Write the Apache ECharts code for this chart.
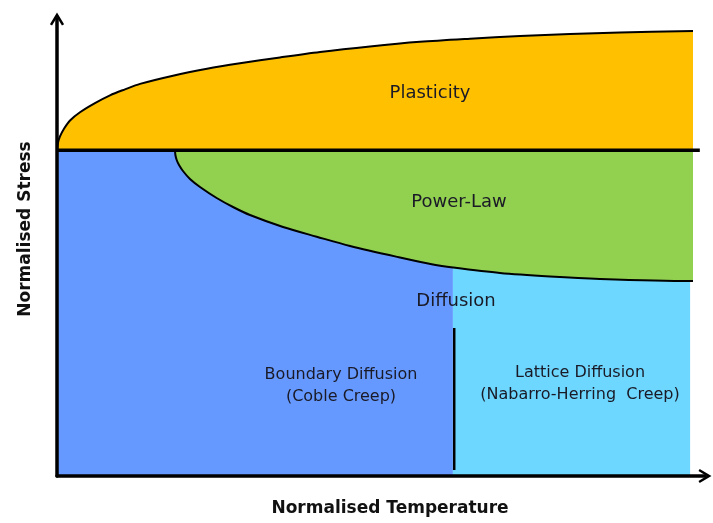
<!DOCTYPE html>
<html>
<head>
<meta charset="utf-8">
<title>Deformation mechanism map</title>
<script src="https://cdn.jsdelivr.net/npm/echarts@6/dist/echarts.min.js"></script>
<style>
  html, body { margin: 0; padding: 0; background: #fff; }
  #main { width: 713px; height: 523px; }
</style>
</head>
<body>
<div id="main"></div>
<script>
// schematic values, normalised temperature (x) and stress (y), 0..100
const plasticityTop = [
  [0, 71.3], [0.15, 72.9], [0.46, 74.3], [1.08, 76.0], [2.01, 77.8], [3.55, 79.6],
  [5.86, 81.6], [8.18, 83.3], [10.49, 84.6], [12.81, 85.8], [17.9, 87.6], [23.15, 89.1],
  [28.24, 90.3], [34.41, 91.6], [40.59, 92.8], [48.3, 94.0], [56.02, 95.0], [63.73, 95.7],
  [71.45, 96.3], [79.17, 96.7], [86.88, 97.05], [98.15, 97.4]
]
const powerLawBottom = [
  [18.21, 71.3], [18.27, 70.24], [18.47, 69.15], [18.83, 68.05], [19.44, 66.74], [20.52, 64.99],
  [22.07, 63.24], [24.64, 60.83], [27.16, 58.86], [29.78, 57.11], [34.88, 54.49], [40.08, 52.36],
  [45.22, 50.33], [52.93, 47.81], [58.02, 46.28], [61.11, 45.62], [68.36, 44.42], [76.08, 43.65],
  [83.8, 43.11], [97.69, 42.67], [98.15, 42.67]
]
const yieldStress = 71.3
const boundaryDiffusion = [[0, 71.3], [61.1, 71.3]]
const latticeDiffusion = [[61.1, 45.62], [97.7, 45.62]]
const yieldLine = [[0, 71.3], [99.2, 71.3]]
const diffusionSplit = [[61.3, 1.3], [61.3, 32.4]]

const regionLabels = ['Plasticity', 'Power-Law', 'Diffusion',
  'Boundary Diffusion\n(Coble Creep)', 'Lattice Diffusion\n(Nabarro-Herring  Creep)']
const axisTitles = ['Normalised Temperature', 'Normalised Stress']

const arrow = 'path://M0,10 L6,0 L12,10 L10.2,11 L6,4.2 L1.8,11 Z'
const ink = '#1a1a26'

const myChart = echarts.init(document.getElementById('main'))

// 区域填充
function area(data, color, origin, z, smooth) {
  return {
    type: 'line',
    data: data,
    symbol: 'none',
    smooth: smooth,
    silent: true,
    z: z,
    lineStyle: { width: 0 },
    areaStyle: { color: color, opacity: 1, origin: origin }
  }
}

// 黑色边界线
function edge(data, width, z, smooth) {
  return {
    type: 'line',
    data: data,
    symbol: 'none',
    smooth: smooth,
    silent: true,
    z: z,
    lineStyle: { color: '#000', width: width }
  }
}

function label(text, x, y, size) {
  return {
    type: 'text',
    x: x,
    y: y,
    z: 100,
    style: {
      text: text,
      fill: ink,
      font: size + 'px "DejaVu Sans"',
      lineHeight: 22,
      align: 'center',
      verticalAlign: 'middle'
    }
  }
}

const option = {
  animation: false,
  grid: { left: 57, right: 8, top: 19, bottom: 47 },
  xAxis: {
    type: 'value', min: 0, max: 100, z: 10,
    axisLine: { lineStyle: { color: '#000', width: 3.5 }, symbol: ['none', arrow], symbolSize: [15, 13] },
    axisTick: { show: false }, axisLabel: { show: false }, splitLine: { show: false }
  },
  yAxis: {
    type: 'value', min: 0, max: 100, z: 10,
    axisLine: { show: true, lineStyle: { color: '#000', width: 3.5 }, symbol: ['none', arrow], symbolSize: [15, 13] },
    axisTick: { show: false }, axisLabel: { show: false }, splitLine: { show: false }
  },
  series: [
    area(boundaryDiffusion, '#6699FF', 0, 1, false),
    area(latticeDiffusion, '#6DD7FF', 0, 2, false),
    area(powerLawBottom, '#92D050', yieldStress, 3, 0.3),
    area(plasticityTop, '#FFC000', yieldStress, 4, 0.3),
    edge(powerLawBottom, 2, 5, 0.3),
    edge(plasticityTop, 2, 5, 0.3),
    edge(yieldLine, 3.5, 6, false),
    edge(diffusionSplit, 2.5, 6, false)
  ],
  graphic: [
    label(regionLabels[0], 430, 93, 18),
    label(regionLabels[1], 459, 202, 18),
    label(regionLabels[2], 456, 301, 18),
    label(regionLabels[3], 341, 386, 16),
    label(regionLabels[4], 580, 384, 16),
    {
      type: 'text', x: 390, y: 509, z: 100,
      style: { text: axisTitles[0], fill: '#111', font: 'bold 17px "DejaVu Sans"', align: 'center', verticalAlign: 'middle' }
    },
    {
      type: 'text', x: 26, y: 229, rotation: Math.PI / 2, z: 100,
      style: { text: axisTitles[1], fill: '#111', font: 'bold 17px "DejaVu Sans"', align: 'center', verticalAlign: 'middle' }
    }
  ]
}

myChart.setOption(option)
</script>
</body>
</html>
